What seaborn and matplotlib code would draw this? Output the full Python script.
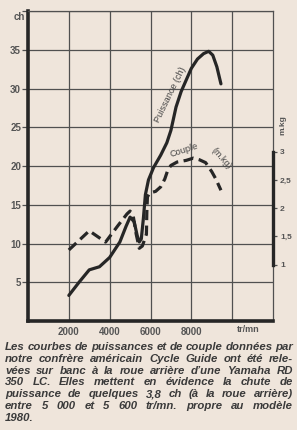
import matplotlib
matplotlib.use("Agg")
import matplotlib.pyplot as plt
import seaborn as sns

# Puissance (ch) relevée au banc, roue arrière
rpm_puissance = [2000, 2500, 3000, 3500, 4000, 4500, 4800, 5000, 5200, 5350, 5450,
                 5550, 5650, 5750, 5900, 6150, 6500, 6800, 7000, 7250, 7500, 7750,
                 8000, 8300, 8600, 8850, 9050, 9250, 9450]
puissance_ch = [3.3, 5.0, 6.6, 7.0, 8.2, 10.2, 12.2, 13.4, 12.8, 11.0, 10.2,
                10.6, 13.2, 16.3, 18.2, 19.8, 21.4, 23.0, 24.6, 27.6, 29.6, 31.1,
                32.6, 33.8, 34.5, 34.8, 34.3, 32.8, 30.6]

# Couple (m.kg)
rpm_couple = [2000, 3000, 3800, 4400, 4850, 5000, 5150, 5300, 5450, 5600, 5800,
              5820, 5850, 5950, 6250, 6500, 6700, 6850, 7000, 7300, 7750, 8100,
              8400, 8700, 9000, 9200, 9450]
couple_mkg = [1.26, 1.60, 1.40, 1.69, 1.90, 1.95, 1.87, 1.54, 1.29, 1.33, 1.54,
              1.93, 2.20, 2.27, 2.30, 2.38, 2.52, 2.68, 2.76, 2.82, 2.85, 2.89,
              2.86, 2.81, 2.65, 2.52, 2.32]

x_ticks = [2000, 4000, 6000, 8000, 10000]
x_labels = ["2000", "4000", "6000", "8000", ""]
ch_ticks = [5, 10, 15, 20, 25, 30, 35, 40]
ch_labels = ["5", "10", "15", "20", "25", "30", "35", ""]
mkg_ticks = [1, 1.5, 2, 2.5, 3]
mkg_labels = ["1", "1,5", "2", "2,5", "3"]

caption_lines = [
    "Les courbes de puissances et de couple données par",
    "notre confrère américain Cycle Guide ont été rele-",
    "vées sur banc à la roue arrière d’une Yamaha RD",
    "350 LC. Elles mettent en évidence la chute de",
    "puissance de quelques 3,8 ch (à la roue arrière)",
    "entre 5 000 et 5 600 tr/mn. propre au modèle",
    "1980.",
]

sns.set_style("white")
plt.rcParams["font.family"] = ["Liberation Sans", "DejaVu Sans"]

paper = "#efe5db"
ink = "#262626"
grid_c = "#505050"
label_c = "#555555"

W, H = 297, 430
fig = plt.figure(figsize=(W / 100, H / 100), dpi=100, facecolor=paper)
ax = fig.add_axes([28 / W, 1 - 321 / H, 245 / W, 310 / H])
ax.set_facecolor(paper)

# power curve
sns.lineplot(x=rpm_puissance, y=puissance_ch, ax=ax, color=ink, linewidth=2.3,
             sort=False, estimator=None, solid_capstyle="round")
ax.set_xlim(0, 12000)
ax.set_ylim(0, 40)
ax.set_xticks(x_ticks)
ax.set_xticklabels(x_labels, fontsize=7, fontweight="bold", color=label_c)
ax.set_yticks(ch_ticks)
ax.set_yticklabels(ch_labels, fontsize=7, fontweight="bold", color=label_c)
ax.tick_params(axis="x", length=0, pad=4)
ax.tick_params(axis="y", direction="out", length=4, width=0.9, color=grid_c, pad=1)
ax.grid(True, color=grid_c, linewidth=0.9)
ax.set_axisbelow(True)
for side in ["left", "bottom"]:
    ax.spines[side].set_linewidth(2.6)
    ax.spines[side].set_color(ink)
for side in ["top", "right"]:
    ax.spines[side].set_linewidth(0.9)
    ax.spines[side].set_color(grid_c)

# torque curve on its own scale
ax2 = ax.twinx()
sns.lineplot(x=rpm_couple, y=couple_mkg, ax=ax2, color=ink, linewidth=2.3,
             sort=False, estimator=None)
ax2.lines[-1].set_linestyle((0, (3.2, 1.7)))
ax2.set_ylim(0, 5.5)
ax2.set_yticks(mkg_ticks)
ax2.set_yticklabels(mkg_labels, fontsize=6, fontweight="bold", color=label_c)
ax2.tick_params(axis="y", direction="out", length=3, width=0.9, color=grid_c, pad=2)
ax2.grid(False)
for side in ["left", "top", "bottom"]:
    ax2.spines[side].set_visible(False)
ax2.spines["right"].set_bounds(1, 3)
ax2.spines["right"].set_linewidth(2.4)
ax2.spines["right"].set_color(ink)

# curve labels
ax.text(6980, 29.2, "Puissance (ch)", rotation=64, fontsize=6.6, color="#444444",
        ha="center", va="center")
ax.text(7650, 22.1, "Couple", rotation=18, fontsize=6.6, color="#444444",
        ha="center", va="center")
ax.text(9450, 21.0, "(m.kg)", rotation=-48, fontsize=6.4, color="#444444",
        ha="center", va="center")

fig.text(25 / W, 1 - 17 / H, "ch", fontsize=7, fontweight="bold", color=label_c,
         ha="right", va="center")
fig.text(248 / W, 1 - 330 / H, "tr/mn", fontsize=6.5, fontweight="bold", color=label_c,
         ha="center", va="center")
fig.text(283 / W, 1 - 125 / H, "m.kg", fontsize=6, fontweight="bold", color=label_c,
         rotation=90, ha="center", va="center")

# justified caption
renderer = fig.canvas.get_renderer()
cap_size = 8.2
cap_style = dict(style="italic", fontweight="bold", color="#3a3a3a",
                 va="center", ha="left")
left_px, right_px = 5, 293
min_gap = 2.2
for i, line in enumerate(caption_lines):
    y = 1 - (347 + i * 11.8) / H
    words = line.split(" ")
    texts = [fig.text(0, y, w, fontsize=cap_size, **cap_style) for w in words]
    widths = [t.get_window_extent(renderer).width for t in texts]
    last = i == len(caption_lines) - 1
    if not last and len(words) > 1:
        need = sum(widths) + min_gap * (len(words) - 1)
        if need > right_px - left_px:
            # shrink this line a touch so it still fits
            scale = (right_px - left_px - min_gap * (len(words) - 1)) / sum(widths)
            for t in texts:
                t.set_fontsize(cap_size * scale)
            widths = [t.get_window_extent(renderer).width for t in texts]
        gap = (right_px - left_px - sum(widths)) / (len(words) - 1)
    else:
        gap = 2.8
    x = left_px
    for t, w in zip(texts, widths):
        t.set_x(x / W)
        x += w + gap

fig.savefig("out.png", dpi=100, facecolor=paper)
